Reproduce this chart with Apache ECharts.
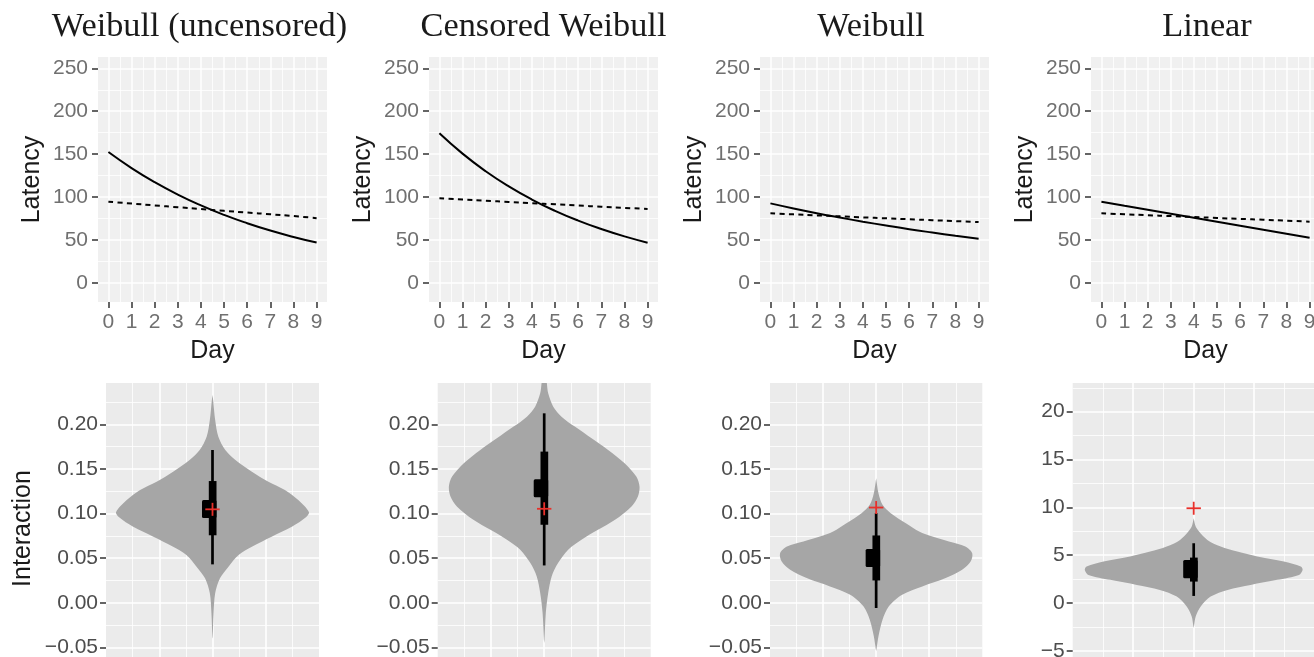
<!DOCTYPE html>
<html><head><meta charset="utf-8">
<script src="https://cdn.jsdelivr.net/npm/echarts@6/dist/echarts.min.js"></script>
<style>html,body{margin:0;padding:0;background:#fff}#chart{width:1314px;height:657px}</style>
</head><body><div id="chart"></div>
<script>
// ---------- data ----------
const days = [0,1,2,3,4,5,6,7,8,9];
const titles = ['Weibull (uncensored)','Censored Weibull','Weibull','Linear'];

const solidWeibullUncens = [152.4,133.7,117.2,102.8,90.2,79.1,69.4,60.8,53.4,46.8];
const dashedWeibullUncens = [94.5,92.3,90.1,88.0,85.9,83.8,81.8,79.8,77.7,75.3];
const solidCensWeibull = [174.2,150.5,130.0,112.3,97.0,83.8,72.4,62.6,54.0,46.7];
const dashedCensWeibull = [98.4,97.0,95.6,94.2,92.8,91.4,90.0,88.6,87.3,85.9];
const solidWeibull = [92.5,86.6,81.1,76.0,71.2,66.7,62.4,58.5,54.8,51.3];
const dashedWeibull = [80.9,79.7,78.5,77.4,76.2,75.1,74.0,72.9,71.8,70.7];
const solidLinear = [94.5,89.8,85.2,80.5,75.8,71.2,66.5,61.8,57.2,52.5];
const dashedLinear = [80.9,79.8,78.7,77.7,76.6,75.5,74.4,73.4,72.3,71.2];

const latencyTicks = [0,50,100,150,200,250];
const latencyMinor = [25,75,125,175,225];
const dayTicks = [0,1,2,3,4,5,6,7,8,9];
const dayMinor = [0.5,1.5,2.5,3.5,4.5,5.5,6.5,7.5,8.5];
const interactionTicks = [-0.05,0,0.05,0.10,0.15,0.20];
const interactionMinor = [-0.075,-0.025,0.025,0.075,0.125,0.175,0.225];
const linearTicks = [-5,0,5,10,15,20];
const linearMinor = [-7.5,-2.5,2.5,7.5,12.5,17.5,22.5];
const violinXTicks = [-1,0,1];
const violinXMinor = [-1.5,-0.5,0.5,1.5];

// violin outlines: [value, half-width]
const violinWeibullUncens = [[0.2328,0],[0.2272,0.012],[0.2048,0.05],[0.1861,0.11],[0.1712,0.24],[0.1600,0.43],[0.1469,0.74],[0.1357,1.05],[0.1263,1.36],[0.1151,1.61],[0.1017,1.81],[0.0961,1.76],[0.0852,1.49],[0.0740,1.11],[0.0628,0.74],[0.0535,0.49],[0.0404,0.30],[0.0274,0.14],[0.0106,0.05],[-0.0118,0.02],[-0.038,0.004],[-0.040,0]];
const violinCensWeibull = [[0.27,0.01],[0.2459,0.05],[0.2347,0.075],[0.2198,0.17],[0.2086,0.325],[0.1974,0.575],[0.1843,0.89],[0.1713,1.2],[0.1564,1.51],[0.1414,1.73],[0.1302,1.79],[0.1191,1.76],[0.1079,1.64],[0.0929,1.33],[0.0817,1.01],[0.0706,0.70],[0.0594,0.45],[0.0444,0.26],[0.0295,0.14],[0.0109,0.075],[-0.0115,0.03],[-0.0414,0.006],[-0.045,0]];
const violinWeibull = [[0.1396,0],[0.1228,0.044],[0.1097,0.12],[0.1004,0.275],[0.0892,0.56],[0.0799,0.81],[0.0743,1.06],[0.0687,1.37],[0.0631,1.68],[0.0556,1.81],[0.0463,1.78],[0.0370,1.62],[0.0277,1.31],[0.0183,0.87],[0.0090,0.49],[-0.0040,0.24],[-0.0190,0.12],[-0.0376,0.044],[-0.0525,0.006],[-0.054,0]];
const violinLinear = [[8.85,0],[7.98,0.033],[7.46,0.088],[6.59,0.226],[5.89,0.446],[5.37,0.72],[4.85,1.05],[4.32,1.49],[3.80,1.77],[3.45,1.80],[2.93,1.74],[2.41,1.38],[1.88,0.94],[1.36,0.56],[0.66,0.28],[-0.38,0.116],[-1.43,0.033],[-2.47,0.005],[-2.6,0]];

// interval summaries: [thinLo, thinHi, midLo, midHi, wideLo, wideHi]
const boxWeibullUncens = [0.0430,0.1712,0.0756,0.1364,0.0950,0.1151];
const boxCensWeibull = [0.0418,0.2123,0.0874,0.1694,0.1183,0.1385];
const boxWeibull = [-0.0059,0.1004,0.0250,0.0754,0.0400,0.0603];
const boxLinear = [0.73,6.24,2.23,4.74,2.58,4.50];
// true-value markers: [x, y]
const markWeibullUncens = [0,0.1047];
const markCensWeibull = [0,0.1053];
const markWeibull = [0,0.1067];
const markLinear = [0,9.90];

// ---------- layout / style ----------
const SANS = "'Liberation Sans', Arial, Helvetica, sans-serif";
const SERIF = "'Liberation Serif', 'Times New Roman', serif";
const topLefts = [98,429,760,1091];
const titleCenters = [199.5,543.5,871,1207];
const botLefts = [106,437.7,770,1072.7];
const botWidths = [213,213,212.3,242];

const solids = [solidWeibullUncens, solidCensWeibull, solidWeibull, solidLinear];
const dashes = [dashedWeibullUncens, dashedCensWeibull, dashedWeibull, dashedLinear];
const violins = [violinWeibullUncens, violinCensWeibull, violinWeibull, violinLinear];
const boxes = [boxWeibullUncens, boxCensWeibull, boxWeibull, boxLinear];
const marks = [markWeibullUncens, markCensWeibull, markWeibull, markLinear];

const grids = [], xAxes = [], yAxes = [], series = [], titleArr = [];

function addGrid(g) {
  grids.push(Object.assign({show: true, borderWidth: 0, containLabel: false, outerBoundsMode: 'none'}, g));
  return grids.length - 1;
}
function axisPair(list, gi, min, max, ticks, minor, extra, minorPos, majorW) {
  list.push(Object.assign({
    type: 'value', gridIndex: gi, min: min, max: max,
    axisLine: {show: false, onZero: false},
    axisTick: {show: true, customValues: ticks, length: 6, lineStyle: {color: '#333', width: 1.5}},
    axisLabel: {customValues: ticks, fontFamily: SANS},
    splitLine: {show: true, lineStyle: {color: '#fff', width: majorW}},
    nameMoveOverlap: false
  }, extra));
  const majorIdx = list.length - 1;
  list.push({
    type: 'value', gridIndex: gi, min: min, max: max, position: minorPos,
    axisLine: {show: false, onZero: false},
    axisTick: {show: false, customValues: minor},
    axisLabel: {show: false},
    splitLine: {show: true, lineStyle: {color: '#fff', width: 0.8}}
  });
  return majorIdx;
}
const nameStyle = {fontFamily: SANS, fontSize: 25, color: '#1a1a1a'};

for (let p = 0; p < 4; p++) {
  titleArr.push({text: titles[p], left: titleCenters[p], top: 10, textAlign: 'center', padding: 0,
    textStyle: {fontFamily: SERIF, fontSize: 34.3, fontWeight: 'normal', color: '#1a1a1a'}});
  // top panel
  const gi = addGrid({left: topLefts[p], top: 57, width: 229, height: 245, backgroundColor: '#f0f0f0'});
  const xi = axisPair(xAxes, gi, -0.45, 9.45, dayTicks, dayMinor, {
    position: 'bottom',
    axisLabel: {customValues: dayTicks, margin: 10, fontSize: 21, color: '#707070', fontFamily: SANS},
    name: 'Day', nameLocation: 'middle', nameGap: 37, nameTextStyle: nameStyle
  }, 'top', 1.5);
  const yi = axisPair(yAxes, gi, -22.5, 263.2, latencyTicks, latencyMinor, {
    position: 'left',
    axisLabel: {customValues: latencyTicks, margin: 10, fontSize: 21, color: '#707070', fontFamily: SANS},
    name: 'Latency', nameLocation: 'middle', nameGap: 53, nameTextStyle: nameStyle
  }, 'right', 1.5);
  series.push({type: 'line', xAxisIndex: xi, yAxisIndex: yi, showSymbol: false, smooth: true, silent: true,
    data: days.map((d, k) => [d, solids[p][k]]), lineStyle: {color: '#000', width: 2}});
  series.push({type: 'line', xAxisIndex: xi, yAxisIndex: yi, showSymbol: false, smooth: true, silent: true,
    data: days.map((d, k) => [d, dashes[p][k]]), lineStyle: {color: '#000', width: 2, type: [5, 4.3]}});

  // bottom panel
  const isLin = p === 3;
  const gb = addGrid({left: botLefts[p], top: 383, width: botWidths[p], height: isLin ? 296.4 : 291.1, backgroundColor: '#ebebeb'});
  const bxi = axisPair(xAxes, gb, -2, 2, violinXTicks, violinXMinor, {
    position: 'bottom', axisTick: {show: false, customValues: violinXTicks}, axisLabel: {show: false, customValues: violinXTicks}
  }, 'top', 1.6);
  const yticks = isLin ? linearTicks : interactionTicks;
  const yextra = {
    position: 'left',
    axisLabel: {customValues: yticks, margin: 8, fontSize: 21, color: '#4d4d4d', fontFamily: SANS,
      formatter: v => (v < -1e-9 ? '\u2212' : '') + (isLin ? String(Math.abs(v)) : Math.abs(v).toFixed(2))}
  };
  if (p === 0) Object.assign(yextra, {name: 'Interaction', nameLocation: 'middle', nameGap: 70, nameTextStyle: nameStyle});
  const byi = axisPair(yAxes, gb, isLin ? -8 : -0.08, isLin ? 23.0 : 0.2463, yticks, isLin ? linearMinor : interactionMinor, yextra, 'right', 1.6);

  const vio = violins[p];
  series.push({type: 'custom', xAxisIndex: bxi, yAxisIndex: byi, clip: true, silent: true, data: [0],
    renderItem: (params, api) => {
      const pts = [];
      vio.forEach(([y, w]) => pts.push(api.coord([-w, y])));
      for (let k = vio.length - 1; k >= 0; k--) pts.push(api.coord([vio[k][1], vio[k][0]]));
      const cs = params.coordSys;
      return {type: 'polygon', shape: {points: pts, smooth: 0.3},
        clipPath: {type: 'rect', shape: {x: cs.x, y: cs.y, width: cs.width, height: cs.height}},
        style: {fill: '#a6a6a6'}};
    }});
  const bx = boxes[p], mk = marks[p];
  series.push({type: 'custom', xAxisIndex: bxi, yAxisIndex: byi, silent: true, data: [0],
    renderItem: (params, api) => {
      const c = api.coord([0, bx[0]])[0];
      const Y = v => api.coord([0, v])[1];
      const m = api.coord(mk);
      return {type: 'group', children: [
        {type: 'rect', shape: {x: c - 1.35, y: Y(bx[1]), width: 2.7, height: Y(bx[0]) - Y(bx[1])}, style: {fill: '#000'}},
        {type: 'rect', shape: {x: c - 3.7, y: Y(bx[3]), width: 7.7, height: Y(bx[2]) - Y(bx[3])}, style: {fill: '#000'}},
        {type: 'rect', shape: {x: c - 10.5, y: Y(bx[5]), width: 14.5, height: Y(bx[4]) - Y(bx[5]), r: 1.5}, style: {fill: '#000'}},
        {type: 'line', shape: {x1: m[0] - 7.2, y1: m[1], x2: m[0] + 7.2, y2: m[1]}, style: {stroke: '#e8302a', lineWidth: 1.8}},
        {type: 'line', shape: {x1: m[0], y1: m[1] - 6.5, x2: m[0], y2: m[1] + 6.5}, style: {stroke: '#e8302a', lineWidth: 1.8}}
      ]};
    }});
}

const chart = echarts.init(document.getElementById('chart'), null, {renderer: 'canvas'});
chart.setOption({
  backgroundColor: '#ffffff',
  animation: false,
  title: titleArr,
  grid: grids,
  xAxis: xAxes,
  yAxis: yAxes,
  series: series
});
</script></body></html>
